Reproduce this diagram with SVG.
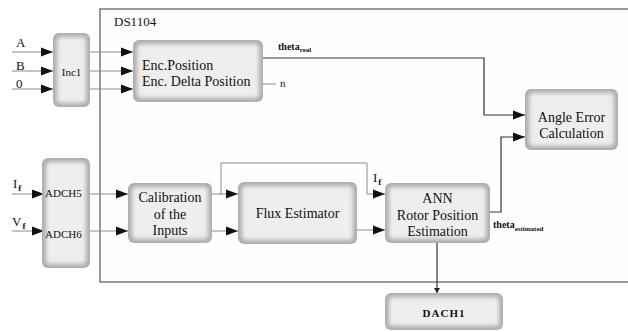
<svg xmlns="http://www.w3.org/2000/svg" width="628" height="332" viewBox="0 0 628 332" font-family="'Liberation Serif', 'Times New Roman', 'DejaVu Serif', serif">
<style>
text{font-family:'Liberation Serif','Times New Roman','DejaVu Serif',serif;fill:#111}
.t14{font-size:14px}
.t13{font-size:13px}
.t11{font-size:11px}
.sm{font-size:10px;font-weight:bold}
.sub{font-size:7px;font-weight:bold}
.fs{font-size:9px;font-weight:bold}
.c{text-anchor:middle}
.bo{fill:#adadad}
.bi{fill:#eeeeee;filter:url(#soft)}
.ln{fill:none;stroke:#8a8a8a;stroke-width:1}
.dk{fill:none;stroke:#333;stroke-width:1.2}
</style>
<defs>
<filter id="soft" x="-20%" y="-20%" width="140%" height="140%"><feGaussianBlur stdDeviation="2.2"/></filter>
<marker id="ar" markerUnits="userSpaceOnUse" markerWidth="13" markerHeight="10" refX="12" refY="5" orient="auto"><path d="M0,0.5 L12,5 L0,9.5 z" fill="#111"/></marker>
<marker id="sa" markerUnits="userSpaceOnUse" markerWidth="6" markerHeight="6" refX="5" refY="3" orient="auto"><path d="M0,0 L5,3 L0,6 z" fill="#222"/></marker>
</defs>
<rect width="628" height="332" fill="#fff"/>
<g id="frame">
<rect x="100" y="9" width="531" height="273" fill="#fefefe" stroke="#555" stroke-width="1.2"/>
<text x="114" y="26" class="t13">DS1104</text>
</g>
<g id="connectors">
<path class="ln" d="M12,52 H53" marker-end="url(#ar)"/>
<path class="ln" d="M12,71 H53" marker-end="url(#ar)"/>
<path class="ln" d="M12,89 H53" marker-end="url(#ar)"/>
<path class="ln" d="M90,52 H133" marker-end="url(#ar)"/>
<path class="ln" d="M90,71 H133" marker-end="url(#ar)"/>
<path class="ln" d="M90,89 H133" marker-end="url(#ar)"/>
<path class="dk" d="M263,58 H484 V115 H525" marker-end="url(#ar)"/>
<path class="ln" d="M263,84 H276"/>
<path class="ln" d="M12,194 H44" marker-end="url(#ar)"/>
<path class="ln" d="M12,231 H44" marker-end="url(#ar)"/>
<path class="ln" d="M90,194 H128" marker-end="url(#ar)"/>
<path class="ln" d="M90,231 H128" marker-end="url(#ar)"/>
<path class="ln" d="M212,194 H238" marker-end="url(#ar)"/>
<path class="ln" d="M221,194 V163 H367 V194 H385" marker-end="url(#ar)"/>
<path class="ln" d="M212,231 H238" marker-end="url(#ar)"/>
<path class="ln" d="M357,230 H385" marker-end="url(#ar)"/>
<path class="dk" d="M490,212 H501 V137 H525" marker-end="url(#ar)"/>
<path class="dk" d="M437,243 V293" marker-end="url(#sa)"/>
</g>
<g id="labels">
<text x="16" y="47" class="t13">A</text>
<text x="16" y="70" class="t13">B</text>
<text x="16" y="88" class="t13">0</text>
<text x="13" y="188" class="t13">I<tspan class="fs" dx="1" dy="3">f</tspan></text>
<text x="12" y="226" class="t13">V<tspan class="fs" dx="1" dy="3">f</tspan></text>
<text x="278" y="50" class="sm">theta<tspan class="sub" dy="2">real</tspan></text>
<text x="280" y="87" class="t11">n</text>
<text x="373" y="182" class="t13">I<tspan class="fs" dx="1" dy="3">f</tspan></text>
<text x="493" y="228" class="sm">theta<tspan class="sub" dy="3">estimated</tspan></text>
</g>
<g id="inc1">
<rect class="bo" x="53" y="33" width="37" height="74" rx="6"/>
<rect class="bi" x="57" y="37" width="29" height="66" rx="4"/>
<text x="71.5" y="76" class="t11 c">Inc1</text>
</g>
<g id="enc">
<rect class="bo" x="133" y="40" width="130" height="62" rx="6"/>
<rect class="bi" x="137" y="44" width="122" height="54" rx="4"/>
<text x="142" y="70" class="t14">Enc.Position</text>
<text x="142" y="86" class="t14">Enc. Delta Position</text>
</g>
<g id="angle">
<rect class="bo" x="525" y="89" width="93" height="61" rx="6"/>
<rect class="bi" x="529" y="93" width="85" height="53" rx="4"/>
<text x="571.5" y="122" class="t14 c">Angle Error</text>
<text x="571.5" y="138" class="t14 c">Calculation</text>
</g>
<g id="adch">
<rect class="bo" x="42" y="158" width="48" height="110" rx="6"/>
<rect class="bi" x="46" y="162" width="40" height="102" rx="4"/>
<text x="45" y="197" class="t11">ADCH5</text>
<text x="45" y="238" class="t11">ADCH6</text>
</g>
<g id="calib">
<rect class="bo" x="128" y="183" width="84" height="60" rx="6"/>
<rect class="bi" x="132" y="187" width="76" height="52" rx="4"/>
<text x="170" y="202" class="t14 c">Calibration</text>
<text x="170" y="219" class="t14 c">of the</text>
<text x="170" y="235" class="t14 c">Inputs</text>
</g>
<g id="flux">
<rect class="bo" x="238" y="182" width="119" height="62" rx="6"/>
<rect class="bi" x="242" y="186" width="111" height="54" rx="4"/>
<text x="297.5" y="218" class="t14 c">Flux Estimator</text>
</g>
<g id="ann">
<rect class="bo" x="385" y="183" width="105" height="60" rx="6"/>
<rect class="bi" x="389" y="187" width="97" height="52" rx="4"/>
<text x="437.5" y="203" class="t14 c">ANN</text>
<text x="437.5" y="220" class="t14 c">Rotor Position</text>
<text x="437.5" y="236" class="t14 c">Estimation</text>
</g>
<g id="dach1">
<rect class="bo" x="385" y="293" width="118" height="37" rx="6"/>
<rect class="bi" x="389" y="297" width="110" height="29" rx="4"/>
<text x="444" y="317" class="t11 c" style="font-weight:bold;letter-spacing:1px">DACH1</text>
</g>
</svg>
